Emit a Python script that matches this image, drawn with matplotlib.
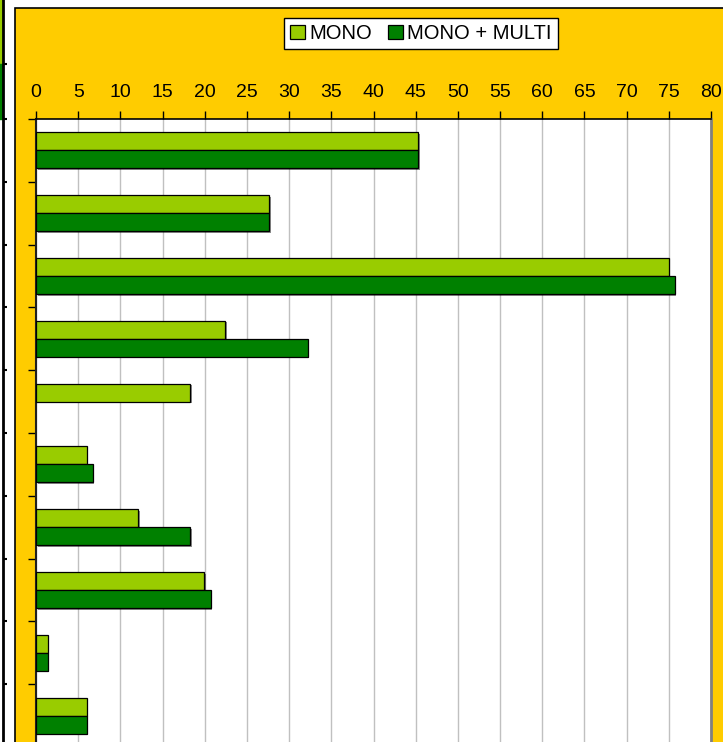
import numpy as np
import matplotlib
matplotlib.use("Agg")
import matplotlib.pyplot as plt
import matplotlib.patches as patches
import matplotlib.patheffects as pe

plt.rcParams['font.family'] = ['Liberation Sans', 'DejaVu Sans']

# values (10 categories, top to bottom)
mono = [45.3, 27.6, 75.0, 22.4, 18.3, 6.0, 12.1, 19.9, 1.4, 6.0]
mono_multi = [45.3, 27.6, 75.7, 32.2, 0.0, 6.7, 18.3, 20.7, 1.4, 6.0]
series_names = ["MONO", "MONO + MULTI"]
x_ticks = list(range(0, 85, 5))

# fragment of the neighbouring chart at the far left edge
side_spans = [(-2.5, -1.376), (-1.376, -0.5)]
side_ticks = [-1.376] + [k - 0.5 for k in range(11)]

LIME = "#99CC00"
DKGREEN = "#008000"
GOLD = "#FFCC00"

W, H = 723, 742
fig = plt.figure(figsize=(W / 100, H / 100), dpi=100)
fig.patch.set_facecolor("white")

# yellow chart area with black frame
frame = patches.Rectangle((15 / W, -0.2), 1.2, 1 - 8 / H + 0.2, transform=fig.transFigure,
                          facecolor=GOLD, edgecolor="black", linewidth=1.2, zorder=-5)
fig.patches.append(frame)

# side fragment
side = fig.add_axes([-0.3, 1 - 747 / H, 0.3 + 3 / W, (747 + 6.6) / H])
side.set_ylim(9.5, -2.5)
side.set_xlim(0, 1)
colors_side = [LIME, DKGREEN]
for (a, b), c in zip(side_spans, colors_side):
    side.axhspan(a, b, color=c)
side.set_facecolor("white")
for s in ["left", "top", "bottom"]:
    side.spines[s].set_visible(False)
side.spines["right"].set_linewidth(2)
side.yaxis.tick_right()
side.set_yticks(side_ticks)
side.set_yticklabels([])
side.set_xticks([])
side.tick_params(axis="y", direction="out", length=3, width=1.5)

# main plot area
ax = fig.add_axes([36 / W, 1 - 747 / H, 675 / W, 628 / H])
ax.set_facecolor("white")
y = np.arange(len(mono))
h = 0.287
shadow = [pe.SimplePatchShadow(offset=(1.2, -1.2), shadow_rgbFace="black", alpha=0.45), pe.Normal()]
b1 = ax.barh(y - h / 2, mono, height=h, color=LIME, edgecolor="black", linewidth=0.9,
             label=series_names[0], zorder=3)
b2 = ax.barh(y + h / 2, mono_multi, height=h, color=DKGREEN, edgecolor="black", linewidth=0.9,
             label=series_names[1], zorder=3)
for bar in list(b1) + list(b2):
    if bar.get_width() > 0:
        bar.set_path_effects(shadow)
    else:
        bar.set_visible(False)

ax.set_xlim(0, 80)
ax.set_ylim(9.5, -0.5)
ax.xaxis.tick_top()
ax.set_xticks(x_ticks)
ax.set_xticklabels([str(t) for t in x_ticks])
ax.tick_params(axis="x", direction="out", length=6, width=1, pad=7, labelsize=14)
ax.set_yticks(np.arange(-0.5, 10, 1))
ax.set_yticklabels([])
ax.tick_params(axis="y", direction="out", length=6, width=1)
ax.grid(axis="x", color="#C0C0C0", linewidth=1)
ax.set_axisbelow(True)
ax.spines["bottom"].set_visible(False)
ax.spines["left"].set_color("#202020")
ax.spines["left"].set_linewidth(1.5)
ax.spines["top"].set_linewidth(1.2)
ax.spines["right"].set_color("#808080")
ax.spines["right"].set_linewidth(2)

leg = fig.legend(handles=[b1, b2], labels=series_names, loc="center",
                 bbox_to_anchor=(421 / W, 1 - 33.5 / H), ncol=2, fontsize=14.5,
                 frameon=True, fancybox=False, edgecolor="black", framealpha=1,
                 handlelength=0.75, handleheight=0.75, handletextpad=0.2,
                 columnspacing=0.8, borderpad=0.3, borderaxespad=0)
leg.get_frame().set_linewidth(1)
for hdl in leg.legend_handles:
    hdl.set_path_effects([])

fig.savefig("out.png", dpi=100)
